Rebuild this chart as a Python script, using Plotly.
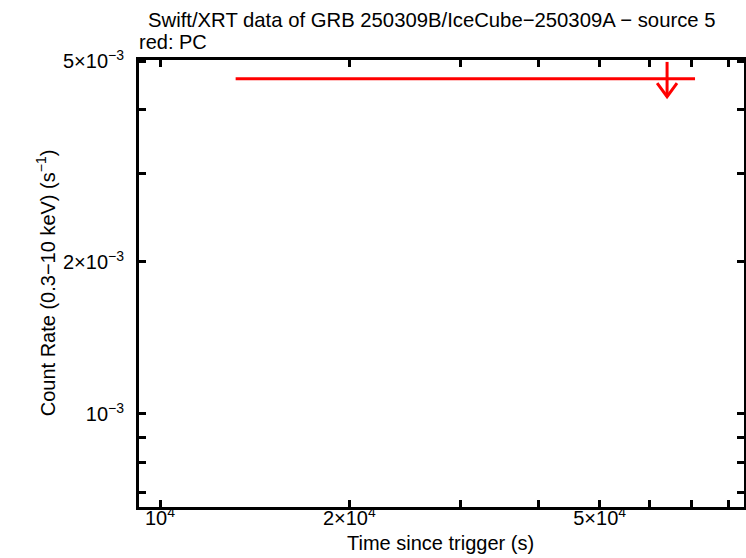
import plotly.graph_objects as go

# Dati (upper limit PC)
tempo = [64000]
tempo_inizio = [13190]
tempo_fine = [70900]
rate_ul = [4.61e-3]
freccia_su = [0.37e-3]
freccia_giu = [0.36e-3]

# Tick
x_tick = [1e4, 2e4, 3e4, 4e4, 5e4, 6e4, 7e4, 8e4]
x_testo = ["10<sup>4</sup>", "2×10<sup>4</sup>", "", "", "5×10<sup>4</sup>", "", "", ""]
y_tick = [7e-4, 8e-4, 9e-4, 1e-3, 2e-3, 3e-3, 4e-3, 5e-3]
y_testo = ["", "", "", "10<sup>−3</sup>", "2×10<sup>−3</sup>", "", "", "5×10<sup>−3</sup>"]

ROSSO = "#ff0000"
FONT = "Liberation Sans, Arial, sans-serif"

fig = go.Figure()

# barra orizzontale + linea verticale
fig.add_trace(go.Scatter(
    x=tempo, y=rate_ul, mode="markers", marker=dict(size=1, color=ROSSO),
    error_x=dict(type="data", symmetric=False,
                 array=[f - t for f, t in zip(tempo_fine, tempo)],
                 arrayminus=[t - i for t, i in zip(tempo, tempo_inizio)],
                 color=ROSSO, thickness=3, width=0),
    error_y=dict(type="data", symmetric=False, array=freccia_su, arrayminus=freccia_giu,
                 color=ROSSO, thickness=3, width=0),
    showlegend=False, hoverinfo="skip"))

# punta della freccia
k = 1.037
for t, r, g in zip(tempo, rate_ul, freccia_giu):
    fondo = r - g
    fig.add_trace(go.Scatter(
        x=[t / k, t, t * k], y=[fondo * 1.064, fondo, fondo * 1.064],
        mode="lines", line=dict(color=ROSSO, width=3),
        showlegend=False, hoverinfo="skip"))

asse = dict(showline=True, linewidth=3, linecolor="black", mirror="allticks",
            ticks="inside", ticklen=7, tickwidth=3, tickcolor="black", automargin=False,
            showgrid=False, zeroline=False, tickfont=dict(family=FONT, size=20, color="black"))

fig.update_xaxes(type="log", range=[3.9666, 4.9285], tickmode="array",
                 tickvals=x_tick, ticktext=x_testo, ticklabelstandoff=-9, **asse)
fig.update_yaxes(type="log", range=[-3.1842, -2.299], tickmode="array",
                 tickvals=y_tick, ticktext=y_testo, ticklabelstandoff=8, **asse)

fig.update_layout(
    width=746, height=558, autosize=False,
    margin=dict(l=139, r=2, t=60, b=51),
    paper_bgcolor="white", plot_bgcolor="white",
    font=dict(family=FONT, size=20, color="black"),
    annotations=[
        dict(text="Swift/XRT data of GRB 250309B/IceCube−250309A − source 5",
             xref="paper", yref="paper", x=0.484, y=1.0895, xanchor="center", yanchor="middle",
             showarrow=False, font=dict(size=20.3)),
        dict(text="red: PC", xref="paper", yref="paper", x=-0.003, y=1.040,
             xanchor="left", yanchor="middle", showarrow=False, font=dict(size=20)),
        dict(text="Time since trigger (s)", xref="paper", yref="paper", x=0.498, y=-0.0805,
             xanchor="center", yanchor="middle", showarrow=False, font=dict(size=20)),
        dict(text="Count Rate (0.3−10 keV) (s<sup>−1</sup>)", xref="paper", yref="paper",
             x=-0.155, y=0.501, xanchor="center", yanchor="middle", textangle=-90,
             showarrow=False, font=dict(size=20)),
    ],
)

# niente margine del body, cosi' il grafico parte da (0, 0)
fig.write_html("out.html", config={"displayModeBar": False},
               post_script="document.body.style.margin='0';document.body.style.overflow='hidden';")
